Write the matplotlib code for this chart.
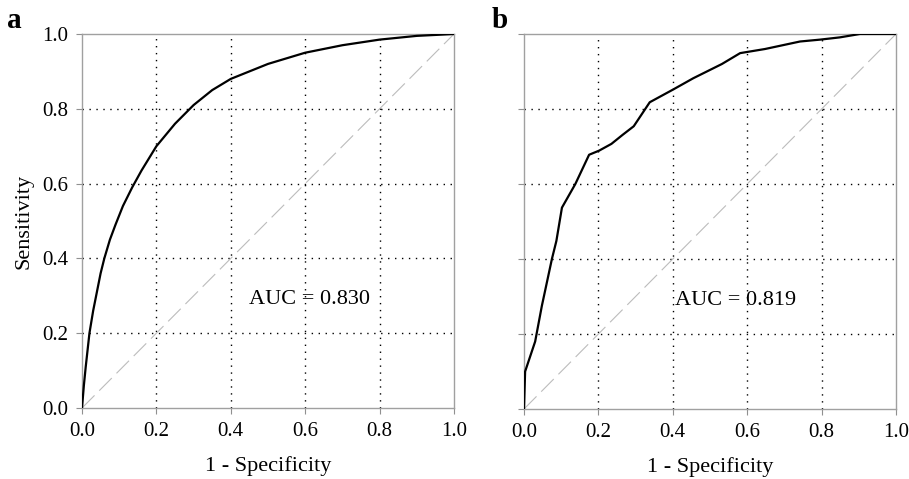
"""ROC curves for two validation sets, panels a and b."""

import matplotlib

matplotlib.use("Agg")

import matplotlib.pyplot as plt

# panel a: smooth fitted ROC curve
fpr_a = [0, 0.005, 0.01, 0.02, 0.03, 0.04, 0.05, 0.06, 0.075, 0.09, 0.11, 0.135,
         0.16, 0.2, 0.25, 0.3, 0.35, 0.4, 0.5, 0.6, 0.7, 0.8, 0.9, 1.0]
tpr_a = [0, 0.06, 0.11, 0.2, 0.26, 0.31, 0.36, 0.40, 0.45, 0.49, 0.54, 0.59,
         0.635, 0.70, 0.76, 0.81, 0.85, 0.88, 0.92, 0.95, 0.97, 0.985, 0.995, 1.0]
auc_a = 0.830

# panel b: empirical ROC curve
fpr_b = [0, 0.003, 0.03, 0.048, 0.075, 0.087, 0.102, 0.138, 0.175, 0.202, 0.235,
         0.265, 0.295, 0.338, 0.401, 0.455, 0.532, 0.581, 0.648, 0.742, 0.796,
         0.849, 0.903, 1.0]
tpr_b = [0, 0.10, 0.18, 0.275, 0.40, 0.448, 0.537, 0.60, 0.678, 0.689, 0.707,
         0.731, 0.754, 0.818, 0.852, 0.882, 0.92, 0.949, 0.96, 0.98, 0.985,
         0.991, 1.0, 1.0]
auc_b = 0.819

ticks = [0.0, 0.2, 0.4, 0.6, 0.8, 1.0]

plt.rcParams["font.family"] = ["Liberation Serif", "DejaVu Serif"]

fig = plt.figure(figsize=(9.09, 4.79), dpi=100)
ax_a = fig.add_axes([82 / 909, 71 / 479, 372 / 909, 374 / 479])
ax_b = fig.add_axes([524 / 909, 70 / 479, 372 / 909, 375 / 479])


def draw_panel(ax, fpr, tpr, auc, text_x, show_ylabels):
    ax.set_xlim(0, 1)
    ax.set_ylim(0, 1)
    for v in ticks[1:-1]:
        ax.axvline(v, color="black", lw=1.0, ls=(0, (1, 4)), zorder=1)
        ax.axhline(v, color="black", lw=1.0, ls=(0, (1, 4)), zorder=1)
    ax.plot([0, 1], [0, 1], color="#bcbcbc", lw=0.8, ls=(0, (16, 6)), zorder=2)
    ax.plot(fpr, tpr, color="black", lw=1.6, zorder=3)
    ax.set_xticks(ticks, [f"{t:.1f}" for t in ticks], fontsize=15)
    ax.set_yticks(ticks, [f"{t:.1f}" for t in ticks] if show_ylabels else [], fontsize=15)
    ax.tick_params(direction="out", length=4, width=0.8, color="#909090", pad=6)
    for spine in ax.spines.values():
        spine.set_color("#a0a0a0")
        spine.set_linewidth(1.0)
    ax.set_xlabel("1 - Specificity", fontsize=16, labelpad=11)
    ax.text(text_x, 0.29, f"AUC = {auc:.3f}", fontsize=16,
            va="center", ha="left", zorder=4)


draw_panel(ax_a, fpr_a, tpr_a, auc_a, 0.45, True)
draw_panel(ax_b, fpr_b, tpr_b, auc_b, 0.405, False)
ax_a.set_ylabel("Sensitivity", fontsize=16, labelpad=6)

fig.text(7 / 909, 1 - 20 / 479, "a", fontsize=21, fontweight="bold", va="center")
fig.text(492 / 909, 1 - 20 / 479, "b", fontsize=21, fontweight="bold", va="center")

fig.savefig("out.png", dpi=100)
